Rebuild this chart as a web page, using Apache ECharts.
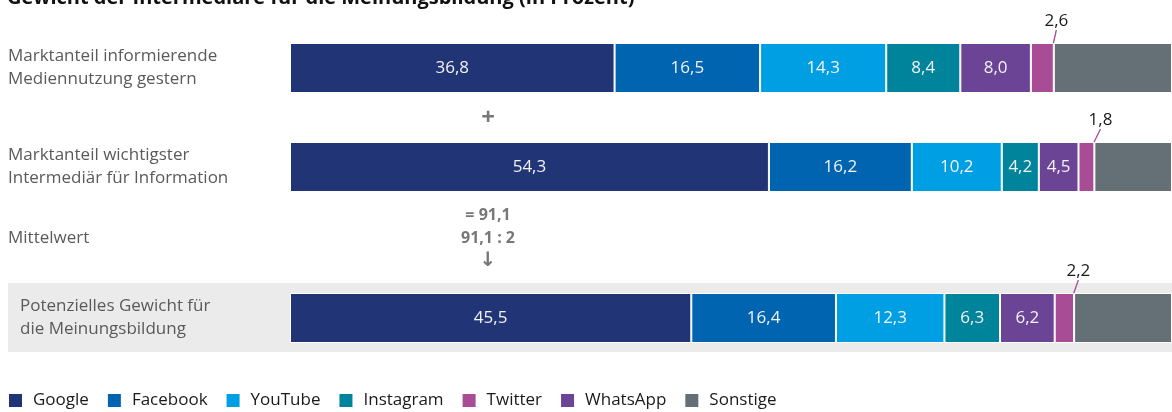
<!DOCTYPE html>
<html>
<head>
<meta charset="utf-8">
<script src="https://cdn.jsdelivr.net/npm/echarts@6/dist/echarts.min.js"></script>
<style>
  html, body { margin: 0; padding: 0; background: #fff; }
  #chart { width: 1172px; height: 412px; }
</style>
</head>
<body>
<div id="chart"></div>
<script>
// Zeilen (Kategorien)
var rows = ['Marktanteil informierende\nMediennutzung gestern',
            'Marktanteil wichtigster\nIntermediär für Information',
            'Potenzielles Gewicht für\ndie Meinungsbildung'];

// Werte je Plattform, eine Zahl pro Zeile
var google    = [36.8, 54.3, 45.5];
var facebook  = [16.5, 16.2, 16.4];
var youtube   = [14.3, 10.2, 12.3];
var instagram = [8.4, 4.2, 6.3];
var whatsapp  = [8.0, 4.5, 6.2];
var twitter   = [2.6, 1.8, 2.2];
var sonstige  = [13.4, 8.8, 11.1];

var legendOrder = ['Google', 'Facebook', 'YouTube', 'Instagram', 'Twitter', 'WhatsApp', 'Sonstige'];

// Reihenfolge im Stapel
var stackOrder = [
  { name: 'Google',    data: google,    color: '#213476' },
  { name: 'Facebook',  data: facebook,  color: '#0064b0' },
  { name: 'YouTube',   data: youtube,   color: '#009fe3' },
  { name: 'Instagram', data: instagram, color: '#00849b' },
  { name: 'WhatsApp',  data: whatsapp,  color: '#6b4496' },
  { name: 'Twitter',   data: twitter,   color: '#a84c96' },
  { name: 'Sonstige',  data: sonstige,  color: '#646f76' }
];

var gridTops = [43, 142, 293];
var fontFam = '"Open Sans", "Noto Sans", sans-serif';

function fmt(v) {
  return v.toFixed(1).replace('.', ',');
}

var chart = echarts.init(document.getElementById('chart'));

var grids = [], xAxes = [], yAxes = [], series = [];
gridTops.forEach(function (top, i) {
  grids.push({ left: 290, right: 0, top: top, height: 50 });
  xAxes.push({ gridIndex: i, type: 'value', min: 0, max: 100, show: false });
  yAxes.push({
    gridIndex: i, type: 'category', data: [rows[i]],
    axisLine: { show: false }, axisTick: { show: false },
    axisLabel: {
      align: 'left', margin: i === 2 ? 270 : 282,
      fontFamily: fontFam, fontSize: 17, lineHeight: 23, color: '#5a5a5a'
    }
  });
  stackOrder.forEach(function (s) {
    var isTw = s.name === 'Twitter';
    var isRest = s.name === 'Sonstige';
    series.push({
      type: 'bar', name: s.name, stack: 'row' + i,
      xAxisIndex: i, yAxisIndex: i,
      data: [s.data[i]], barWidth: 50,
      itemStyle: { color: s.color, borderColor: '#fff', borderWidth: 1 },
      label: {
        show: !isRest,
        position: isTw ? 'top' : 'inside',
        distance: isTw ? 13 : 5,
        formatter: function (p) { return fmt(p.value); },
        fontFamily: fontFam, fontSize: 17,
        color: isTw ? '#1a1a1a' : '#f2f2f2'
      },
      labelLayout: isTw ? { dx: 14 } : null,
      labelLine: isTw ? { show: true, length2: 0, lineStyle: { color: '#a84c96', width: 1.3 } } : null
    });
  });
});

var sumTop = google[0] + google[1];

var option = {
  animation: false,
  textStyle: { fontFamily: fontFam },
  title: {
    text: 'Gewicht der Intermediäre für die Meinungsbildung (in Prozent)',
    left: 2, top: -17,
    textStyle: { fontFamily: fontFam, fontSize: 20, fontWeight: 'bold', color: '#111' }
  },
  legend: {
    data: legendOrder, left: 2, top: 387,
    icon: 'rect', itemWidth: 15, itemHeight: 15, itemGap: 17,
    textStyle: { fontFamily: fontFam, fontSize: 17, color: '#1a1a1a', padding: [0, 0, 0, 5] }
  },
  graphic: [
    { type: 'rect', left: 8, top: 283, z: -10, shape: { width: 1164, height: 69 }, style: { fill: '#ebebeb' } },
    { type: 'text', x: 8, y: 238, style: { text: 'Mittelwert', font: '17px ' + fontFam, fill: '#5a5a5a', verticalAlign: 'middle' } },
    { type: 'text', x: 488, y: 118, style: { text: '+', font: 'bold 24px ' + fontFam, fill: '#777', align: 'center', verticalAlign: 'middle' } },
    { type: 'text', x: 488, y: 215, style: { text: '= ' + fmt(sumTop), font: 'bold 16px ' + fontFam, fill: '#777', align: 'center', verticalAlign: 'middle' } },
    { type: 'text', x: 488, y: 238, style: { text: fmt(sumTop) + ' : 2', font: 'bold 16px ' + fontFam, fill: '#777', align: 'center', verticalAlign: 'middle' } },
    { type: 'text', x: 488, y: 261, style: { text: '↓', font: 'bold 20px "DejaVu Sans"', fill: '#777', align: 'center', verticalAlign: 'middle' } }
  ],
  grid: grids,
  xAxis: xAxes,
  yAxis: yAxes,
  series: series
};

chart.setOption(option);
window.addEventListener('resize', function () { chart.resize(); });
</script>
</body>
</html>
